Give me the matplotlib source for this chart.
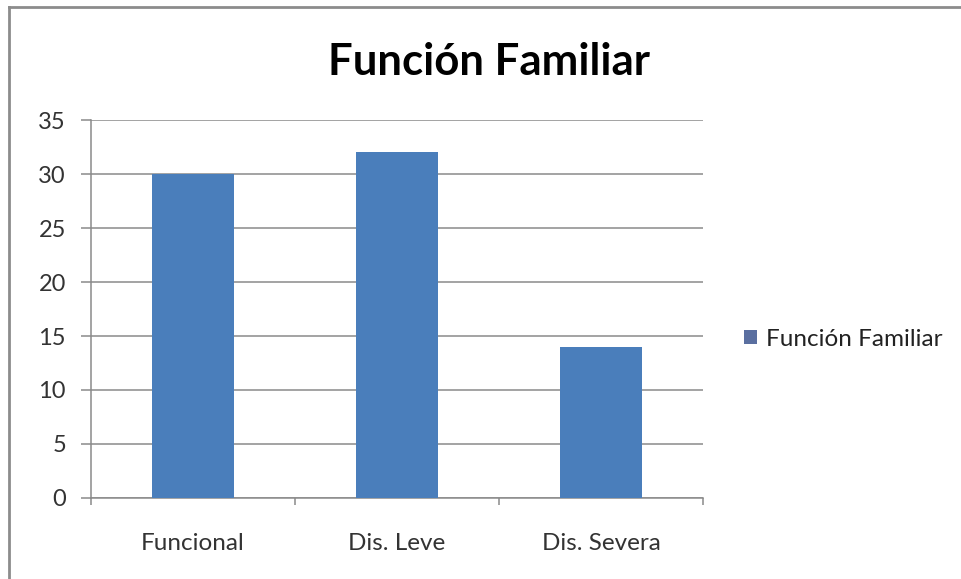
import matplotlib
matplotlib.use("Agg")
import matplotlib.pyplot as plt
from matplotlib.lines import Line2D
from matplotlib.patches import Patch

categories = ["Funcional", "Dis. Leve", "Dis. Severa"]
values = [30, 32, 14]
series_name = "Función Familiar"
title = "Función Familiar"
yticks = [0, 5, 10, 15, 20, 25, 30, 35]

plt.rcParams["font.family"] = ["Lato", "DejaVu Sans"]

W, H = 961, 579
fig = plt.figure(figsize=(W / 100, H / 100), dpi=100)
fig.patch.set_facecolor("white")

# outer chart frame (top and left edges)
fig.add_artist(Line2D([9 / W, 9 / W], [0, 1 - 7 / H], transform=fig.transFigure,
                      color="#8c8c8c", lw=2))
fig.add_artist(Line2D([9 / W, 1], [1 - 7 / H, 1 - 7 / H], transform=fig.transFigure,
                      color="#8c8c8c", lw=2))

ax = fig.add_axes([91 / W, 81 / H, 612 / W, 378 / H])
x = list(range(len(categories)))
bar_color = "#4A7EBB"
ax.bar(x, values, width=0.4, color=bar_color, zorder=3)

ax.set_xlim(-0.5, len(categories) - 0.5)
ax.set_ylim(0, 35)
ax.set_yticks(yticks)
ax.yaxis.grid(True, color="#8a8a8a", lw=1.1, zorder=0)
ax.set_axisbelow(True)

for s in ["top", "right"]:
    ax.spines[s].set_visible(False)
for s in ["left", "bottom"]:
    ax.spines[s].set_color("#8a8a8a")
    ax.spines[s].set_linewidth(1.1)

ax.set_xticks(x)
ax.set_xticklabels(categories, fontsize=17.5, color="#333333")
ax.tick_params(axis="x", length=0, pad=25)
ax.set_xticks([i - 0.5 for i in range(len(categories) + 1)], minor=True)
ax.tick_params(axis="x", which="minor", length=5, color="#8a8a8a", width=1.1)
ax.tick_params(axis="y", length=7, color="#8a8a8a", width=1.1, labelsize=17,
               labelcolor="#333333", pad=11)

fig.text(489 / W, 1 - 62 / H, title, ha="center", va="center",
         fontsize=31.5, fontweight="bold", color="black")

handle = Patch(facecolor="#5a6fa0", edgecolor="none")
fig.legend([handle], [series_name], loc="center left",
           bbox_to_anchor=(744 / W, 1 - 339 / H), frameon=False,
           fontsize=17.5, handlelength=0.55, handleheight=0.55, handletextpad=0.35,
           borderaxespad=0, borderpad=0, labelcolor="#222222")

fig.savefig("out.png", dpi=100, facecolor="white")
